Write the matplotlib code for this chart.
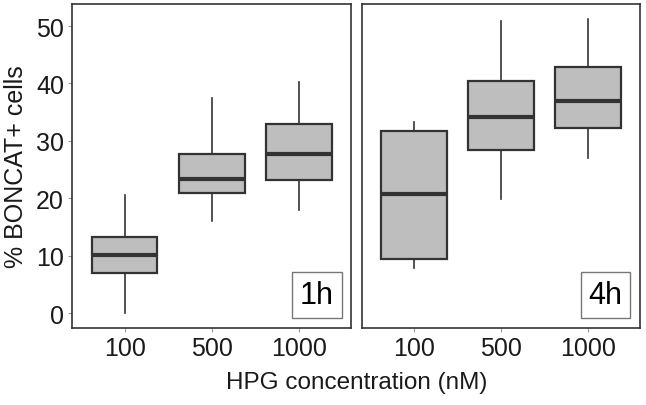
import matplotlib.pyplot as plt
from matplotlib.patches import Rectangle

plt.rcParams['font.family'] = ['Liberation Sans', 'DejaVu Sans']

concentrations = ['100', '500', '1000']
panels = ['1h', '4h']

# box stats: whisker low, Q1, median, Q3, whisker high
low_1h = [0.1, 16.1, 18.0]
q1_1h = [7.05, 20.95, 23.15]
med_1h = [10.1, 23.4, 27.7]
q3_1h = [13.25, 27.65, 33.0]
high_1h = [20.5, 37.5, 40.3]

low_4h = [7.9, 19.8, 27.1]
q1_4h = [9.5, 28.5, 32.2]
med_4h = [20.7, 34.2, 37.0]
q3_4h = [31.8, 40.45, 42.9]
high_4h = [33.3, 50.8, 51.3]

yticks = [0, 10, 20, 30, 40, 50]

data = {
    '1h': (low_1h, q1_1h, med_1h, q3_1h, high_1h),
    '4h': (low_4h, q1_4h, med_4h, q3_4h, high_4h),
}

fig = plt.figure(figsize=(6.46, 4.06), dpi=100)
ax1 = fig.add_axes([0.112, 0.190, 0.432, 0.798])
ax2 = fig.add_axes([0.560, 0.190, 0.431, 0.798])

edge = '#333333'
for ax, name in zip([ax1, ax2], panels):
    lo, q1, med, q3, hi = data[name]
    stats = []
    for i in range(len(concentrations)):
        stats.append({'whislo': lo[i], 'q1': q1[i], 'med': med[i],
                      'q3': q3[i], 'whishi': hi[i], 'fliers': [],
                      'label': concentrations[i]})
    ax.bxp(stats, positions=[1, 2, 3], widths=0.75, patch_artist=True,
           showcaps=False, showfliers=False,
           boxprops=dict(facecolor='#BEBEBE', edgecolor=edge, linewidth=1.6),
           medianprops=dict(color=edge, linewidth=3.0, solid_capstyle='butt'),
           whiskerprops=dict(color=edge, linewidth=1.2))
    ax.set_xlim(0.4, 3.6)
    ax.set_ylim(-2.57, 53.87)
    ax.set_yticks(yticks)
    for s in ax.spines.values():
        s.set_color(edge)
        s.set_linewidth(1.2)
    ax.tick_params(axis='both', length=3, color='#999999', labelsize=18,
                   labelcolor='#1a1a1a', pad=3)
    ax.add_patch(Rectangle((0.786, 0.031), 0.179, 0.142, transform=ax.transAxes,
                           facecolor='white', edgecolor='#777777', linewidth=1.0,
                           zorder=5))
    ax.text(0.876, 0.102, name, transform=ax.transAxes, ha='center', va='center',
            fontsize=22, color='black', zorder=6)

ax2.tick_params(axis='y', left=False, labelleft=False)
ax1.set_ylabel('% BONCAT+ cells', fontsize=18, color='#1a1a1a', labelpad=6)
fig.text(0.552, 0.057, 'HPG concentration (nM)', ha='center', va='center',
         fontsize=17.5, color='#1a1a1a')

fig.savefig('out.png', dpi=100)
